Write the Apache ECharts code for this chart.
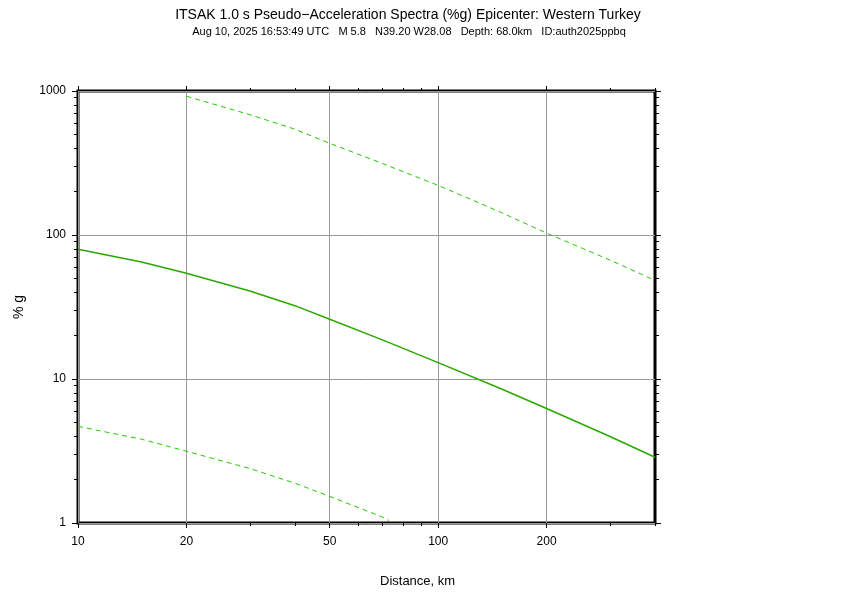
<!DOCTYPE html>
<html>
<head>
<meta charset="utf-8">
<script src="https://cdn.jsdelivr.net/npm/echarts@6/dist/echarts.min.js"></script>
<style>html,body{margin:0;padding:0;background:#fff}#c{width:842px;height:595px}</style>
</head>
<body>
<div id="c"></div>
<script>
const titleText = 'ITSAK 1.0 s Pseudo\u2212Acceleration Spectra (%g) Epicenter: Western Turkey';
const subtitleText = 'Aug 10, 2025 16:53:49 UTC   M 5.8   N39.20 W28.08   Depth: 68.0km   ID:auth2025ppbq';
const xAxisTitle = 'Distance, km';
const yAxisTitle = '% g';

const xLabelValues = [10, 20, 50, 100, 200];
const xMinorValues = [30, 40, 60, 70, 80, 90, 300, 400];
const yLabelValues = [1, 10, 100, 1000];
const yMinorValues = [2,3,4,5,6,7,8,9,20,30,40,50,60,70,80,90,200,300,400,500,600,700,800,900];

const medianDist = [10, 15, 20, 30, 40, 50, 70, 100, 150, 200, 300, 400];
const medianVals = [79.6, 65.0, 54.2, 40.8, 32.3, 26.0, 18.7, 13.0, 8.53, 6.24, 3.99, 2.86];
const upperDist = [20, 30, 40, 50, 70, 100, 150, 200, 300, 400];
const upperVals = [919, 685, 543, 433, 314, 221, 143, 103, 67.0, 48.4];
const lowerDist = [10, 15, 20, 30, 40, 50, 70, 73];
const lowerVals = [4.69, 3.82, 3.15, 2.39, 1.89, 1.53, 1.10, 1.04];

const pairs = (xs, ys) => xs.map((x, i) => [x, ys[i]]);
const FONT = 'Liberation Sans, Arial, Helvetica, sans-serif';

function xAx(pos, ticks, labels, len, split) {
  return {
    type: 'log', min: 10, max: 400, position: pos,
    axisLine: { show: false },
    axisTick: { show: true, inside: false, length: len, customValues: ticks, lineStyle: { color: '#000', width: 1 } },
    axisLabel: labels ? { show: true, customValues: labels, color: '#000', fontSize: 12, fontFamily: FONT, margin: 13, formatter: v => String(v) } : { show: false },
    splitLine: { show: split, lineStyle: { color: '#999', width: 1 } },
    minorTick: { show: false }, minorSplitLine: { show: false }
  };
}
function yAx(pos, ticks, labels, len, split) {
  return {
    type: 'log', min: 1, max: 1000, position: pos,
    axisLine: { show: false },
    axisTick: { show: true, inside: false, length: len, customValues: ticks, lineStyle: { color: '#000', width: 1 } },
    axisLabel: labels ? { show: true, customValues: labels, color: '#000', fontSize: 12, fontFamily: FONT, margin: 12, formatter: v => String(v) } : { show: false },
    splitLine: { show: split, lineStyle: { color: '#999', width: 1 } },
    minorTick: { show: false }, minorSplitLine: { show: false }
  };
}

const xAxes = [
  xAx('bottom', xLabelValues, xLabelValues, 5, true),
  xAx('bottom', xMinorValues, null, 3, false),
  xAx('top', xLabelValues, null, 5, false),
  xAx('top', xMinorValues, null, 3, false)
];
const yAxes = [
  yAx('left', yLabelValues, yLabelValues, 6, true),
  yAx('left', yMinorValues, null, 4, false),
  yAx('right', yLabelValues, null, 6, false),
  yAx('right', yMinorValues, null, 4, false)
];
yAxes[0].name = yAxisTitle;
yAxes[0].nameLocation = 'middle';
yAxes[0].nameGap = 52;
yAxes[0].nameTextStyle = { color: '#000', fontSize: 14, fontFamily: FONT };

const chart = echarts.init(document.getElementById('c'), null, { renderer: 'canvas' });
chart.setOption({
  backgroundColor: '#fff',
  animation: false,
  title: [
    { text: titleText, left: 403, top: 3, textAlign: 'center', textStyle: { fontSize: 14, fontWeight: 'normal', color: '#000', fontFamily: FONT } },
    { text: subtitleText, left: 404, top: 21, textAlign: 'center', textStyle: { fontSize: 11, fontWeight: 'normal', color: '#000', fontFamily: FONT } }
  ],
  grid: { left: 78, right: 187, top: 91, bottom: 72, show: true, borderColor: '#000', borderWidth: 3, backgroundColor: 'transparent' },
  xAxis: xAxes,
  yAxis: yAxes,
  graphic: [
    { type: 'text', left: 380, top: 575, style: { text: xAxisTitle, fill: '#000', fontSize: 13, fontFamily: FONT } }
  ],
  series: [
    { type: 'line', xAxisIndex: 0, yAxisIndex: 0, data: pairs(medianDist, medianVals), showSymbol: false, smooth: false, lineStyle: { color: '#2aa800', width: 1.5 }, z: 3 },
    { type: 'line', xAxisIndex: 0, yAxisIndex: 0, data: pairs(upperDist, upperVals), showSymbol: false, smooth: false, lineStyle: { color: '#22cc00', width: 1, type: [5, 4] }, z: 2 },
    { type: 'line', xAxisIndex: 0, yAxisIndex: 0, data: pairs(lowerDist, lowerVals), showSymbol: false, smooth: false, lineStyle: { color: '#22cc00', width: 1, type: [5, 4] }, z: 2 }
  ]
});
</script>
</body>
</html>
